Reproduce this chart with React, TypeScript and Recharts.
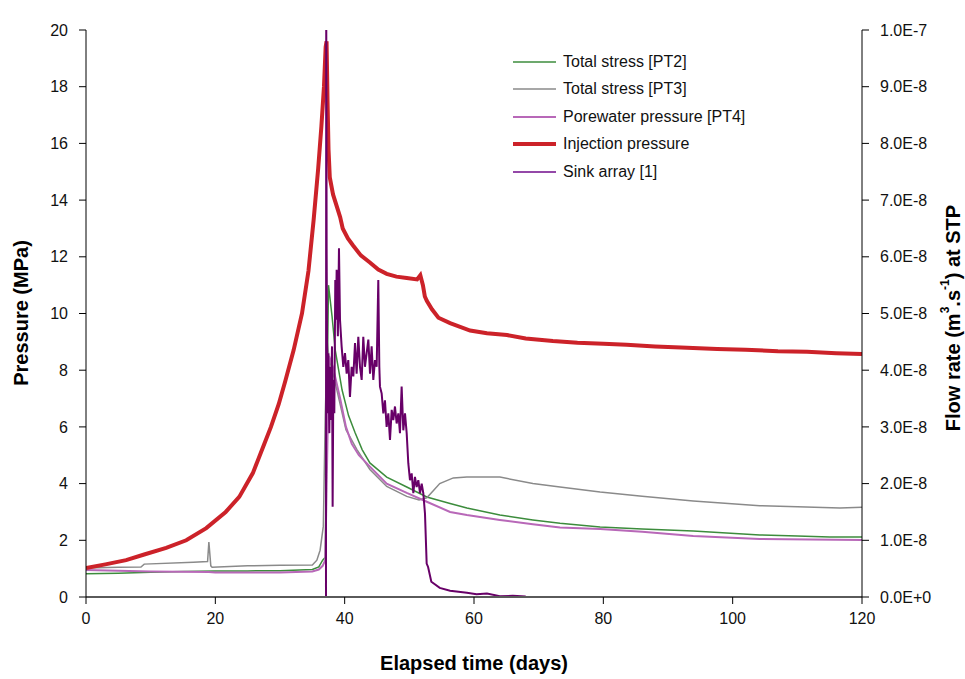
import { LineChart, Line, XAxis, YAxis, Label } from 'recharts';

// time axis (days)
const timeTicks = [0, 20, 40, 60, 80, 100, 120];
const pressureTicks = [0, 2, 4, 6, 8, 10, 12, 14, 16, 18, 20];
const flowTicks = [0, 1e-8, 2e-8, 3e-8, 4e-8, 5e-8, 6e-8, 7e-8, 8e-8, 9e-8, 1e-7];

// Injection pressure (MPa)
const injT = [0, 3, 6.2, 9, 12.4, 15.5, 18.6, 21.6, 23.7, 25.8, 27.4, 28.6, 29.8, 30.8, 32.1, 33.4, 34.4, 35.2, 35.9, 36.4, 36.8, 37.06, 37.2, 37.35, 37.5, 37.7, 38.2, 39.3, 39.7, 40.5, 41.3, 42.5, 43.9, 45.2, 46.5, 48, 49.6, 51.2, 51.7, 52.1, 52.4, 52.7, 53.5, 54.5, 56.3, 59.4, 62, 65.1, 68, 72.2, 76, 80, 83.6, 88, 92, 97.6, 102, 107, 111.5, 116, 120];
const injP = [1.02, 1.15, 1.3, 1.5, 1.73, 2.0, 2.43, 3.0, 3.53, 4.37, 5.3, 6.0, 6.8, 7.6, 8.7, 10.0, 11.5, 13.3, 15.1, 16.6, 18.0, 19.4, 19.6, 17.5, 15.8, 14.8, 14.2, 13.4, 13.0, 12.65, 12.4, 12.05, 11.8, 11.55, 11.4, 11.3, 11.25, 11.2, 11.35, 11.0, 10.6, 10.45, 10.15, 9.85, 9.66, 9.4, 9.3, 9.24, 9.12, 9.03, 8.97, 8.93, 8.9, 8.84, 8.8, 8.75, 8.72, 8.67, 8.65, 8.6, 8.57];

// Total stress [PT2]
const pt2T = [0, 5, 10, 15, 20, 25, 30, 35, 36, 36.6, 37.0, 37.2, 37.5, 38.05, 38.55, 39.6, 40.6, 41.6, 42.7, 43.9, 46.5, 49.6, 52.7, 56.3, 58.9, 64, 69.1, 73.3, 79.5, 86, 93.9, 104.2, 110, 115, 120];
const pt2P = [0.82, 0.84, 0.87, 0.9, 0.92, 0.92, 0.93, 0.97, 1.06, 1.3, 1.4, 6.0, 11.0, 9.9, 8.7, 7.3, 6.4, 5.8, 5.2, 4.73, 4.23, 3.88, 3.53, 3.3, 3.14, 2.89, 2.72, 2.6, 2.47, 2.4, 2.33, 2.19, 2.15, 2.12, 2.12];

// Total stress [PT3]
const pt3T = [0, 5, 8.5, 9, 16.6, 18.8, 19.0, 19.3, 19.5, 25, 30, 35, 35.7, 36.2, 36.7, 37.0, 37.3, 37.6, 38.2, 38.8, 40.2, 41.9, 43.9, 46.5, 49.6, 51.5, 52.7, 53.7, 54.7, 56.8, 58.9, 64, 69.1, 73.3, 79.5, 86, 93.9, 104.2, 110, 116.6, 120];
const pt3P = [1.02, 1.05, 1.06, 1.16, 1.23, 1.25, 1.94, 1.1, 1.05, 1.1, 1.12, 1.13, 1.3, 1.65, 2.5, 6.4, 9.0, 8.4, 7.9, 7.3, 5.9, 5.2, 4.5, 3.9, 3.55, 3.42, 3.5, 3.75, 4.0, 4.2, 4.23, 4.23, 4.0, 3.88, 3.7, 3.55, 3.39, 3.22, 3.18, 3.14, 3.17];

// Porewater pressure [PT4]
const pt4T = [0, 10, 19, 20, 30, 35, 36, 36.6, 37.0, 37.3, 37.6, 38.2, 38.8, 39.3, 40.2, 41.1, 42.2, 43.9, 46.5, 49.6, 52.7, 56.3, 58.9, 64, 69.1, 73.3, 79.5, 86, 93.9, 104.2, 112, 120];
const pt4P = [0.95, 0.9, 0.88, 0.86, 0.86, 0.9, 0.97, 1.1, 1.3, 5.0, 8.5, 8.1, 7.5, 7.0, 6.0, 5.4, 5.0, 4.6, 4.0, 3.67, 3.36, 3.0, 2.89, 2.72, 2.57, 2.45, 2.4, 2.3, 2.15, 2.05, 2.03, 2.01];

// Sink array [1] flow rate (m3/s at STP)
const sinkT = [0, 37.0, 37.11, 37.15, 37.21, 37.32, 37.47, 37.63, 37.73, 37.88, 38.04, 38.14, 38.25, 38.4, 38.55, 38.66, 38.76, 38.95, 39.12, 39.28, 39.53, 39.79, 40.05, 40.31, 40.56, 40.82, 41.08, 41.34, 41.6, 41.85, 42.11, 42.37, 42.63, 42.88, 43.14, 43.4, 43.66, 43.92, 44.17, 44.43, 44.69, 44.95, 45.2, 45.36, 45.46, 45.72, 45.98, 46.23, 46.49, 46.75, 47.01, 47.27, 47.52, 47.78, 48.04, 48.3, 48.55, 48.81, 49.07, 49.33, 49.59, 49.84, 50.1, 50.36, 50.62, 50.87, 51.13, 51.39, 51.65, 51.91, 52.16, 52.42, 52.68, 52.9, 53.4, 54.7, 56.3, 58.9, 60.4, 62, 64, 66, 68];
const sinkQ = [0, 0, 0, 1.05e-7, 6.18e-8, 3.24e-8, 4.3e-8, 2.89e-8, 4.06e-8, 3.12e-8, 4.42e-8, 1.59e-8, 3.83e-8, 3.24e-8, 5.59e-8, 4.89e-8, 5.77e-8, 4.6e-8, 6.15e-8, 4.89e-8, 4.42e-8, 4.06e-8, 4.3e-8, 3.94e-8, 4.18e-8, 3.53e-8, 4.06e-8, 3.89e-8, 4.48e-8, 3.94e-8, 4.59e-8, 4.06e-8, 3.83e-8, 4.59e-8, 4.06e-8, 4.3e-8, 4.54e-8, 3.94e-8, 4.42e-8, 3.83e-8, 4.18e-8, 4.06e-8, 5.59e-8, 4.06e-8, 3.71e-8, 3.59e-8, 3.24e-8, 3.47e-8, 3.0e-8, 3.24e-8, 2.77e-8, 3.3e-8, 3.12e-8, 3.36e-8, 3.06e-8, 3.24e-8, 2.89e-8, 3.71e-8, 2.94e-8, 3.24e-8, 2.89e-8, 2.36e-8, 2.06e-8, 2.18e-8, 1.83e-8, 2.12e-8, 1.94e-8, 2.06e-8, 1.83e-8, 2.0e-8, 1.83e-8, 1.47e-8, 0.59e-8, 0.53e-8, 0.27e-8, 0.16e-8, 0.11e-8, 0.075e-8, 0.05e-8, 0.06e-8, 0.015e-8, 0.02e-8, 0.01e-8];

const zip = (t: number[], v: number[]) => t.map((x, i) => ({ t: x, v: v[i] }));

const legendItems = [
  { name: 'Total stress [PT2]', color: '#3c8c3c', width: 1.5 },
  { name: 'Total stress [PT3]', color: '#8a8a8a', width: 1.5 },
  { name: 'Porewater pressure [PT4]', color: '#b868b8', width: 2 },
  { name: 'Injection pressure', color: '#cc2229', width: 4 },
  { name: 'Sink array [1]', color: '#9448a8', width: 2 },
];

const FONT = '"Liberation Sans", Arial, sans-serif';

function ChartLegend() {
  return (
    <div style={{ position: 'absolute', left: 512, top: 48, fontFamily: FONT, fontSize: 16, color: '#111' }}>
      {legendItems.map((it) => (
        <div key={it.name} style={{ display: 'flex', alignItems: 'center', height: 27.5 }}>
          <svg width={46} height={10} style={{ marginRight: 5 }}>
            <line x1={1} y1={5} x2={44} y2={5} stroke={it.color} strokeWidth={it.width} />
          </svg>
          <span>{it.name}</span>
        </div>
      ))}
    </div>
  );
}

const leftTitle = () => (
  <text x={21} y={313} transform="rotate(-90 21 313)" textAnchor="middle" dominantBaseline="central"
    fontFamily={FONT} fontWeight="bold" fontSize={20} fill="#000">
    Pressure (MPa)
  </text>
);

const rightTitle = () => (
  <text x={953} y={318} transform="rotate(-90 953 318)" textAnchor="middle" dominantBaseline="central"
    fontFamily={FONT} fontWeight="bold" fontSize={20} fill="#000">
    <tspan>Flow rate (m</tspan><tspan fontSize={12} dy={-8}>3</tspan><tspan dy={8}>.s</tspan><tspan fontSize={12} dy={-8}>-1</tspan><tspan dy={8}>) at STP</tspan>
  </text>
);

const bottomTitle = () => (
  <text x={474} y={663} textAnchor="middle" dominantBaseline="central"
    fontFamily={FONT} fontWeight="bold" fontSize={20} fill="#000">
    Elapsed time (days)
  </text>
);

const tickStyle = { fontFamily: FONT, fontSize: 16, fill: '#111' };

export default function App() {
  return (
    <div style={{ position: 'absolute', left: 0, top: 0, width: 965, height: 679, background: '#fff' }}>
      <LineChart width={965} height={679} margin={{ top: 30, right: 33, bottom: 32, left: 26 }}>
        <XAxis
          dataKey="t"
          type="number"
          domain={[0, 120]}
          ticks={timeTicks}
          allowDataOverflow
          height={50}
          tick={tickStyle}
          tickSize={7}
          tickMargin={9}
          axisLine={{ stroke: '#5a5a5a', strokeWidth: 2 }}
          tickLine={{ stroke: '#000' }}
        >
          <Label content={bottomTitle} />
        </XAxis>
        <YAxis
          yAxisId="p"
          orientation="left"
          domain={[0, 20]}
          ticks={pressureTicks}
          allowDataOverflow
          width={60}
          tick={tickStyle}
          tickSize={7}
          tickMargin={11}
          axisLine={{ stroke: '#000' }}
          tickLine={{ stroke: '#000' }}
        >
          <Label content={leftTitle} />
        </YAxis>
        <YAxis
          yAxisId="f"
          orientation="right"
          domain={[0, 1e-7]}
          ticks={flowTicks}
          allowDataOverflow
          width={70}
          tick={tickStyle}
          tickSize={7}
          tickMargin={11}
          tickFormatter={(v: number) => v.toExponential(1).toUpperCase()}
          axisLine={{ stroke: '#000' }}
          tickLine={{ stroke: '#000' }}
        >
          <Label content={rightTitle} />
        </YAxis>
        <Line yAxisId="p" data={zip(pt2T, pt2P)} dataKey="v" stroke="#3c8c3c" strokeWidth={1.5} dot={false} activeDot={false} isAnimationActive={false} />
        <Line yAxisId="p" data={zip(pt3T, pt3P)} dataKey="v" stroke="#8a8a8a" strokeWidth={1.5} dot={false} activeDot={false} isAnimationActive={false} />
        <Line yAxisId="p" data={zip(pt4T, pt4P)} dataKey="v" stroke="#b868b8" strokeWidth={2} dot={false} activeDot={false} isAnimationActive={false} />
        <Line yAxisId="p" data={zip(injT, injP)} dataKey="v" stroke="#cc2229" strokeWidth={4} dot={false} activeDot={false} isAnimationActive={false} />
        <Line yAxisId="f" data={zip(sinkT, sinkQ)} dataKey="v" stroke="#680068" strokeWidth={2} dot={false} activeDot={false} isAnimationActive={false} />
      </LineChart>
      <ChartLegend />
    </div>
  );
}
